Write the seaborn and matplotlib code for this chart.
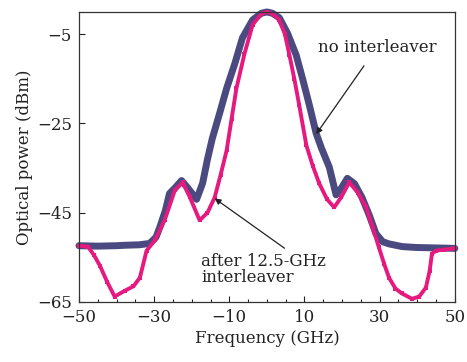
import numpy as np
import pandas as pd
import matplotlib
matplotlib.use("Agg")
import matplotlib.pyplot as plt
import seaborn as sns
from matplotlib.ticker import MultipleLocator

# Optical spectrum without interleaver (GHz, dBm)
freq_no = [-50, -45, -40, -37.8, -34, -31.2, -29.5, -28.5, -27, -25.9, -24.5, -22.7,
           -21, -18.7, -17.1, -15.8, -14.5, -12.5, -10.7, -8.5, -6.5, -3.8, -1.5, 0,
           1.5, 3.3, 5.5, 7.8, 9.5, 11.3, 13.1, 14.5, 16.6, 18.4, 19.8, 21.4, 23.3,
           25.3, 27.2, 29.0, 30.8, 32.5, 36, 39.7, 45, 50]
power_no = [-52.4, -52.5, -52.4, -52.3, -52.2, -51.9, -50.5, -48.3, -44.5, -40.7, -39.5, -37.8,
            -39.5, -42.0, -38.4, -33.0, -28.3, -22.5, -17.1, -11.5, -5.8, -1.8, -0.3, 0.0,
            -0.3, -1.3, -4.8, -9.7, -15.0, -20.9, -27.2, -30.5, -34.8, -41.0, -39.5, -37.3, -38.5,
            -41.6, -45.5, -49.7, -51.5, -52.0, -52.6, -52.8, -52.9, -53.0]

# Optical spectrum after the 12.5-GHz interleaver (GHz, dBm)
freq_il = [-50, -47.6, -46, -44.4, -42.5, -40.5, -37.8, -35.5, -33.8, -32, -29.8, -27.2,
           -24.5, -22.4, -20.5, -17.9, -15.8, -13.9, -12.3, -10.7, -9.4, -8.1, -6, -3.8,
           -1.5, 0, 1.5, 3.3, 4.8, 6, 7.3, 8.6, 10.5, 12.2, 13.9, 16, 17.9, 19.8, 21.9,
           24.2, 26.4, 28.2, 29.8, 31.2, 32.5, 34.2, 35.9, 38.6, 40.5, 42.3, 43.3, 43.9,
           45, 47, 50]
power_il = [-52.4, -52.6, -54.5, -56.9, -60.5, -63.8, -62.5, -61.5, -59.6, -53.5, -51.2, -46.7,
            -40.0, -38.2, -41.5, -46.7, -45.0, -41.6, -36.5, -31.0, -24.0, -17.1, -9.5, -2.9,
            -0.4, 0.0, -0.4, -1.8, -5.0, -9.7, -15.0, -20.9, -29.9, -34.5, -38.4, -42.0, -43.8, -41.5,
            -38.2, -40.5, -43.8, -48.5, -52.8, -56.5, -59.6, -62.0, -63.1, -64.3, -63.8, -61.8, -58.0,
            -54.2, -53.5, -53.3, -53.0]

x_ticks = [-50, -30, -10, 10, 30, 50]
y_ticks = [-5, -25, -45, -65]

sns.set_theme(style="white")
plt.rcParams["font.family"] = ["DejaVu Serif"]
plt.rcParams["mathtext.fontset"] = "dejavuserif"

fig = plt.figure(figsize=(4.67, 3.62), dpi=100)
ax = fig.add_axes([0.169, 0.166, 0.805, 0.801])

blue = "#4a4a80"
magenta = "#e6197f"

df_no = pd.DataFrame({"f": freq_no, "p": power_no})
df_il = pd.DataFrame({"f": freq_il, "p": power_il})

sns.lineplot(data=df_no, x="f", y="p", ax=ax, color=blue, linewidth=5.0,
             solid_capstyle="round", solid_joinstyle="round", sort=False, clip_on=False)
sns.lineplot(data=df_il, x="f", y="p", ax=ax, color=magenta, linewidth=2.8,
             marker="s", markersize=2.8, markeredgewidth=0, sort=False,
             solid_joinstyle="round", clip_on=False)

ax.set_xlim(-50, 50)
ax.set_ylim(-65, 0)
ax.set_xticks(x_ticks)
ax.set_xticklabels([f"\u2212{abs(v)}" if v < 0 else str(v) for v in x_ticks])
ax.set_yticks(y_ticks)
ax.set_yticklabels([f"\u2212{abs(v)}" for v in y_ticks])
ax.xaxis.set_minor_locator(MultipleLocator(5))

ax.tick_params(axis="both", which="major", direction="in", length=4, width=0.8,
               color="#222222", labelsize=12, labelcolor="#222222", pad=5,
               bottom=True, left=True, top=False, right=False)
ax.tick_params(axis="x", which="minor", direction="in", length=2.5, width=0.8,
               color="#222222", bottom=True, top=False)

for s in ax.spines.values():
    s.set_color("#333333")
    s.set_linewidth(0.9)

ax.set_xlabel("Frequency (GHz)", fontsize=12, color="#222222", labelpad=3)
ax.set_ylabel("Optical power (dBm)", fontsize=12, color="#222222", labelpad=3)

ax.annotate("no interleaver", xy=(13.1, -27.4), xytext=(29.3, -7.9),
            fontsize=12, color="#222222", ha="center", va="center",
            arrowprops=dict(arrowstyle="-|>", color="#222222", lw=0.9,
                            mutation_scale=9, shrinkA=6, shrinkB=0))

ax.annotate("after 12.5-GHz\ninterleaver", xy=(-13.9, -41.8), xytext=(-17.4, -57.8),
            fontsize=12, color="#222222", ha="left", va="center",
            multialignment="left", linespacing=0.95,
            arrowprops=dict(arrowstyle="-|>", color="#222222", lw=0.9,
                            mutation_scale=9, shrinkB=0,
                            relpos=(0.72, 1.0)))

fig.savefig("out.png", dpi=100)
